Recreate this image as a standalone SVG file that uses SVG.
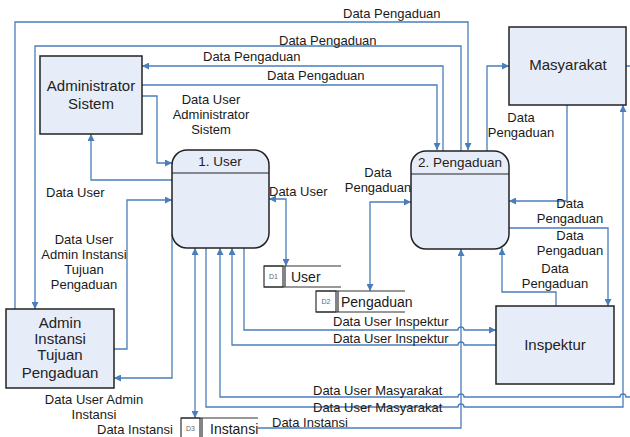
<svg xmlns="http://www.w3.org/2000/svg" width="630" height="437" viewBox="0 0 630 437">
<style>
.ent{fill:#E7EDF8;stroke:#222;stroke-width:1.5}
.proc{fill:#E7EDF8;stroke:#222;stroke-width:1.5}
.hdr{stroke:#222;stroke-width:1.2;fill:none}
.nt{font-family:"Liberation Sans",Arial,sans-serif;font-size:15px;fill:#222;text-anchor:middle}
.pt{font-family:"Liberation Sans",Arial,sans-serif;font-size:13.5px;fill:#222;text-anchor:middle}
.lb{font-family:"Liberation Sans",Arial,sans-serif;font-size:13px;fill:#1a1a1a}
.lbm{font-family:"Liberation Sans",Arial,sans-serif;font-size:13px;fill:#1a1a1a;text-anchor:middle}
.st{fill:none;stroke:#333;stroke-width:1.2}
.sid{font-family:"Liberation Sans",Arial,sans-serif;font-size:7px;fill:#666;text-anchor:middle}
.stt{font-family:"Liberation Sans",Arial,sans-serif;font-size:14px;fill:#1a1a1a}
.c{fill:none;stroke:#4A7EBB;stroke-width:1.3}
.a{marker-end:url(#ar)}
.b{marker-start:url(#ar);marker-end:url(#ar)}
</style>
<defs>
<marker id="ar" viewBox="0 0 10 10" refX="10" refY="5" markerWidth="8" markerHeight="7" markerUnits="userSpaceOnUse" orient="auto-start-reverse">
<path d="M0,0 L10,5 L0,10 z" fill="#4A7EBB"/>
</marker>
</defs>
<rect width="630" height="437" fill="#fff"/>

<g id="connectors">
<path class="c a" d="M15,309 V22 H468 V150"/>
<path class="c a" d="M461,151 V46 H35 V309"/>
<path class="c a" d="M443,151 V66 H142"/>
<path class="c a" d="M142,85 H437 V150"/>
<path class="c a" d="M142,96 H157 V163 H172"/>
<path class="c a" d="M172,180 H91 V134"/>
<path class="c a" d="M114,349 H127 V200 H172"/>
<path class="c a" d="M172,234 V378 H114"/>
<path class="c b" d="M269,199 H286 V266"/>
<path class="c b" d="M411,202 H370 V291"/>
<path class="c b" d="M195,248 V418"/>
<path class="c a" d="M258,428 H461 V249"/>
<path class="c a" d="M244,248 V330 H458 a3,3 0 0 1 6,0 H496"/>
<path class="c a" d="M496,345 H464 a3,3 0 0 0 -6,0 H232 V248"/>
<path class="c a" d="M626,66 H640 V397 H626 a3,3 0 0 0 -6,0 H464 a3,3 0 0 0 -6,0 H220 V248"/>
<path class="c a" d="M206,248 V407 H458 a3,3 0 0 1 6,0 H623 V105"/>
<path class="c a" d="M487,151 V66 H509"/>
<path class="c a" d="M567,105 V201 H509"/>
<path class="c a" d="M509,228 H608 V306"/>
<path class="c a" d="M556,306 V292 H502 V248"/>
</g>

<g id="labels">
<text class="lb" x="343" y="18">Data Pengaduan</text>
<text class="lb" x="279" y="45">Data Pengaduan</text>
<text class="lb" x="203" y="61">Data Pengaduan</text>
<text class="lb" x="267" y="80">Data Pengaduan</text>
<text class="lbm" x="211" y="104">Data User</text>
<text class="lbm" x="211" y="119">Administrator</text>
<text class="lbm" x="211" y="134">Sistem</text>
<text class="lb" x="46" y="197">Data User</text>
<text class="lbm" x="84" y="244">Data User</text>
<text class="lbm" x="84" y="259">Admin Instansi</text>
<text class="lbm" x="84" y="274">Tujuan</text>
<text class="lbm" x="84" y="289">Pengaduan</text>
<text class="lb" x="269" y="196">Data User</text>
<text class="lbm" x="94" y="404">Data User Admin</text>
<text class="lbm" x="94" y="419">Instansi</text>
<text class="lb" x="97" y="434">Data Instansi</text>
<text class="lb" x="272" y="427">Data Instansi</text>
<text class="lb" x="333" y="326">Data User Inspektur</text>
<text class="lb" x="333" y="343">Data User Inspektur</text>
<text class="lb" x="313" y="395">Data User Masyarakat</text>
<text class="lb" x="313" y="412">Data User Masyarakat</text>
<text class="lbm" x="521" y="122">Data</text>
<text class="lbm" x="521" y="137">Pengaduan</text>
<text class="lbm" x="378" y="177">Data</text>
<text class="lbm" x="378" y="192">Pengaduan</text>
<text class="lbm" x="570" y="208">Data</text>
<text class="lbm" x="570" y="223">Pengaduan</text>
<text class="lbm" x="570" y="240">Data</text>
<text class="lbm" x="570" y="255">Pengaduan</text>
<text class="lbm" x="555" y="273">Data</text>
<text class="lbm" x="555" y="288">Pengaduan</text>
</g>

<g id="admin-sistem">
<rect class="ent" x="40" y="56" width="102" height="78"/>
<text class="nt" x="91" y="91">Administrator</text>
<text class="nt" x="91" y="109">Sistem</text>
</g>

<g id="masyarakat">
<rect class="ent" x="509" y="27" width="117" height="78"/>
<text class="nt" x="568" y="70">Masyarakat</text>
</g>

<g id="admin-instansi">
<rect class="ent" x="6" y="309" width="108" height="79"/>
<text class="nt" x="60" y="328">Admin</text>
<text class="nt" x="60" y="344">Instansi</text>
<text class="nt" x="60" y="360">Tujuan</text>
<text class="nt" x="60" y="378">Pengaduan</text>
</g>

<g id="inspektur">
<rect class="ent" x="496" y="306" width="118" height="78"/>
<text class="nt" x="555" y="350">Inspektur</text>
</g>

<g id="p1-user">
<rect class="proc" x="172" y="150" width="97" height="98" rx="15" ry="15"/>
<line class="hdr" x1="172" y1="173" x2="269" y2="173"/>
<text class="pt" x="220" y="166">1. User</text>
</g>

<g id="p2-pengaduan">
<rect class="proc" x="411" y="151" width="98" height="98" rx="15" ry="15"/>
<line class="hdr" x1="411" y1="174" x2="509" y2="174"/>
<text class="pt" x="460" y="167">2. Pengaduan</text>
</g>

<g id="d1-user">
<rect class="st" x="264" y="266" width="19" height="21"/>
<path class="st" d="M285,266 V287 M264,266 H341 M264,287 H341"/>
<text class="sid" x="273.5" y="279">D1</text>
<text class="stt" x="291" y="282">User</text>
</g>

<g id="d2-pengaduan">
<rect class="st" x="316" y="291" width="20" height="21"/>
<path class="st" d="M338,291 V312 M316,291 H405 M316,312 H405"/>
<text class="sid" x="326" y="304">D2</text>
<text class="stt" x="341" y="307">Pengaduan</text>
</g>

<g id="d3-instansi">
<rect class="st" x="181" y="418" width="19" height="22"/>
<path class="st" d="M202,418 V440 M181,418 H258 M181,440 H258"/>
<text class="sid" x="190.5" y="431">D3</text>
<text class="stt" x="210" y="434">Instansi</text>
</g>
</svg>
